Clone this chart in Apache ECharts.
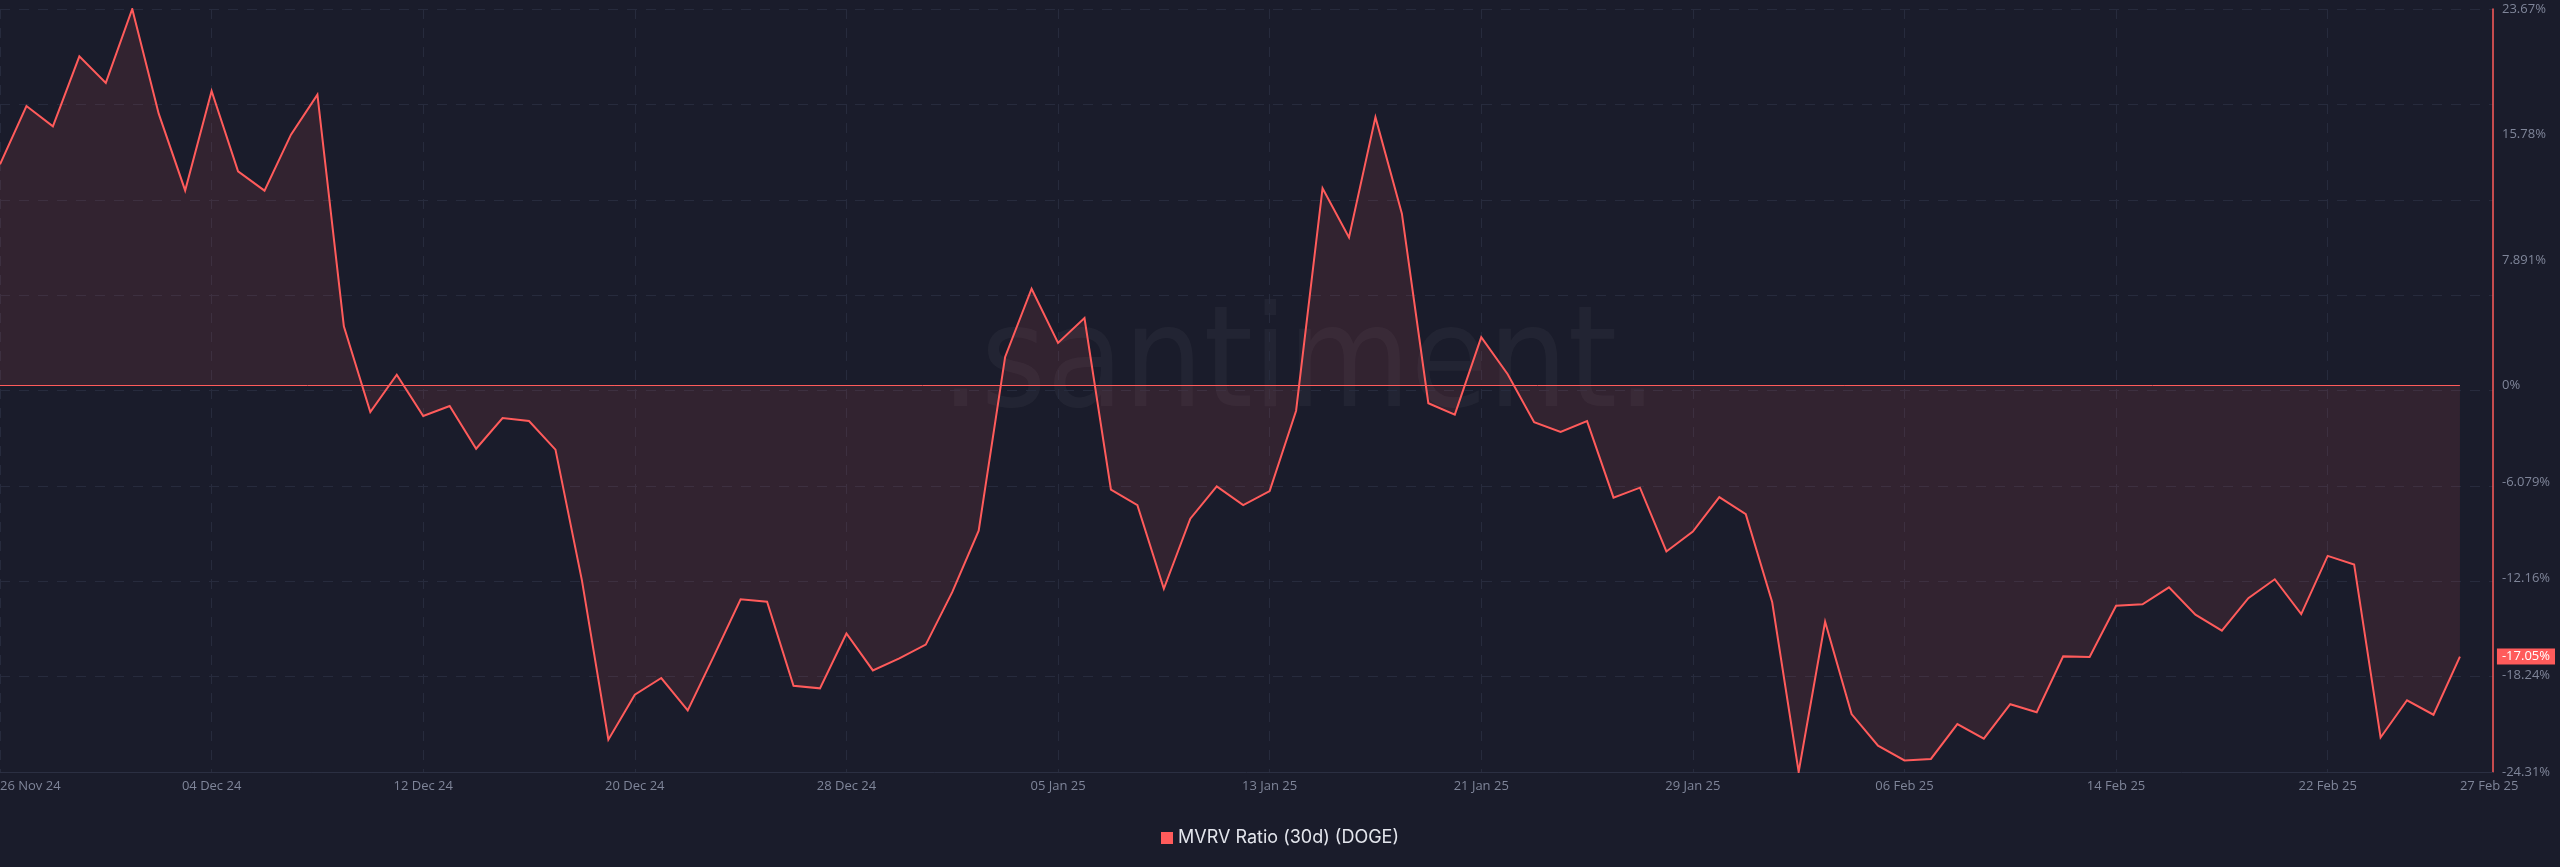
<!DOCTYPE html>
<html>
<head>
<meta charset="utf-8">
<title>MVRV Ratio (30d) (DOGE)</title>
<script src="https://cdn.jsdelivr.net/npm/echarts@6/dist/echarts.min.js"></script>
<style>
  html, body { margin: 0; padding: 0; background: #1a1c2b; }
  #chart { width: 2560px; height: 867px; }
</style>
</head>
<body>
<div id="chart"></div>
<script>
// daily MVRV 30d values (%), 26 Nov 24 -> 27 Feb 25
const startDate = [2024, 10, 26];
const mvrvValues = [
  13.90, 17.57, 16.29, 20.69, 19.02, 23.67, 17.09, 12.26, 18.52, 13.46,
  12.25, 15.77, 18.28, 3.71, -1.67, 0.67, -1.92, -1.30, -3.98, -2.05,
  -2.24, -4.04, -12.26, -22.28, -19.45, -18.40, -20.44, -16.98, -13.45, -13.60,
  -18.89, -19.05, -15.60, -17.92, -17.17, -16.30, -13.00, -9.13, 1.79, 6.08,
  2.67, 4.23, -6.56, -7.53, -12.79, -8.38, -6.35, -7.53, -6.65, -1.59,
  12.40, 9.30, 16.87, 10.80, -1.12, -1.84, 3.04, 0.70, -2.31, -2.93,
  -2.25, -7.06, -6.43, -10.44, -9.19, -7.03, -8.10, -13.64, -24.31, -14.86,
  -20.67, -22.65, -23.58, -23.49, -21.30, -22.21, -20.05, -20.55, -17.04, -17.08,
  -13.86, -13.76, -12.70, -14.42, -15.42, -13.38, -12.19, -14.38, -10.72, -11.26,
  -22.14, -19.80, -20.71, -17.05
];
const xTickDates = ['2024-11-26', '2024-12-04', '2024-12-12', '2024-12-20', '2024-12-28',
  '2025-01-05', '2025-01-13', '2025-01-21', '2025-01-29', '2025-02-06',
  '2025-02-14', '2025-02-22', '2025-02-27'];
const yTicks = [23.67, 15.78, 7.891, 0, -6.079, -12.16, -18.24, -24.31];
const seriesName = 'MVRV Ratio (30d) (DOGE)';

const months = ['Jan', 'Feb', 'Mar', 'Apr', 'May', 'Jun', 'Jul', 'Aug', 'Sep', 'Oct', 'Nov', 'Dec'];
const DAY = 86400000;
const t0 = Date.UTC(startDate[0], startDate[1], startDate[2]);

// x axis is "days since start"
function dayIndex(s) {
  const p = s.split('-');
  return Math.round((Date.UTC(+p[0], +p[1] - 1, +p[2]) - t0) / DAY);
}
function fmtDay(i) {
  const d = new Date(t0 + Math.round(i) * DAY);
  const dd = d.getUTCDate() < 10 ? '0' + d.getUTCDate() : '' + d.getUTCDate();
  return dd + ' ' + months[d.getUTCMonth()] + ' ' + String(d.getUTCFullYear()).slice(2);
}

const seriesData = mvrvValues.map(function (v, i) { return [i, v]; });
const lastI = mvrvValues.length - 1;
const lastV = mvrvValues[lastI];

const labelTicks = xTickDates.map(dayIndex);
const gridTicks = labelTicks.slice(0, labelTicks.length - 1);

const red = '#ff5b5b';
const axisGray = '#7f8599';
const gridColor = '#272b3d';
const font = '"Open Sans", Roboto, sans-serif';

const chart = echarts.init(document.getElementById('chart'));
chart.setOption({
  backgroundColor: '#1a1c2b',
  animation: false,
  textStyle: { fontFamily: font },
  graphic: [{
    type: 'text',
    z: 0,
    silent: true,
    style: {
      text: '.santiment.',
      x: 1299,
      y: 370,
      align: 'center',
      verticalAlign: 'middle',
      font: '140px "Liberation Sans Narrow", "DejaVu Sans Condensed", Roboto, sans-serif',
      fill: 'rgba(255,255,255,0.04)'
    }
  }],
  legend: {
    data: [seriesName],
    left: 'center',
    top: 824,
    icon: 'rect',
    itemWidth: 12,
    itemHeight: 12,
    itemGap: 7,
    textStyle: { color: '#e3e5ec', fontSize: 18, fontFamily: 'Inter, "Open Sans", sans-serif' }
  },
  grid: {
    left: 0,
    right: 67,
    top: 9,
    bottom: 95,
    containLabel: false,
    outerBoundsMode: 'none'
  },
  xAxis: {
    type: 'value',
    min: 0,
    max: lastI + 1.25,
    axisLine: { show: true, onZero: false, lineStyle: { color: '#2b2f42', width: 1 } },
    axisTick: { show: false, customValues: gridTicks },
    splitLine: { show: true, lineStyle: { color: gridColor, type: [10, 9], width: 1 } },
    axisLabel: {
      customValues: labelTicks,
      formatter: fmtDay,
      color: axisGray,
      fontSize: 13,
      margin: 8,
      alignMinLabel: 'left',
      alignMaxLabel: 'left',
      hideOverlap: false
    }
  },
  yAxis: [{
    type: 'value',
    position: 'right',
    min: yTicks[yTicks.length - 1],
    max: yTicks[0],
    axisLine: { show: true, onZero: false, lineStyle: { color: red, width: 1.5 } },
    axisTick: { show: false },
    splitLine: { show: false },
    axisLabel: {
      customValues: yTicks,
      color: axisGray,
      fontSize: 13,
      margin: 9,
      formatter: function (v) { return v + '%'; }
    }
  }, {
    type: 'value',
    position: 'left',
    min: 0,
    max: 8,
    interval: 1,
    axisLine: { show: false, onZero: false },
    axisTick: { show: false },
    axisLabel: { show: false },
    splitLine: { show: true, lineStyle: { color: gridColor, type: [10, 9], width: 1 } }
  }],
  series: [{
    name: seriesName,
    type: 'line',
    yAxisIndex: 0,
    data: seriesData,
    showSymbol: false,
    symbol: 'none',
    z: 3,
    itemStyle: { color: red },
    lineStyle: { color: red, width: 2, join: 'miter' },
    areaStyle: { color: 'rgba(255,91,91,0.15)' },
    markLine: {
      silent: true,
      symbol: 'none',
      label: { show: false },
      lineStyle: { color: red, width: 1, type: 'solid' },
      data: [[{ coord: [0, 0] }, { coord: [lastI, 0] }]]
    },
    markPoint: {
      silent: true,
      symbol: 'circle',
      symbolSize: 0,
      itemStyle: { color: 'transparent' },
      label: {
        show: true,
        position: 'right',
        distance: 37,
        formatter: function () { return lastV + '%'; },
        color: '#ffffff',
        fontSize: 13,
        fontFamily: font,
        backgroundColor: red,
        padding: [2, 5, 1, 5]
      },
      data: [{ coord: [lastI, lastV] }]
    }
  }]
});
</script>
</body>
</html>
